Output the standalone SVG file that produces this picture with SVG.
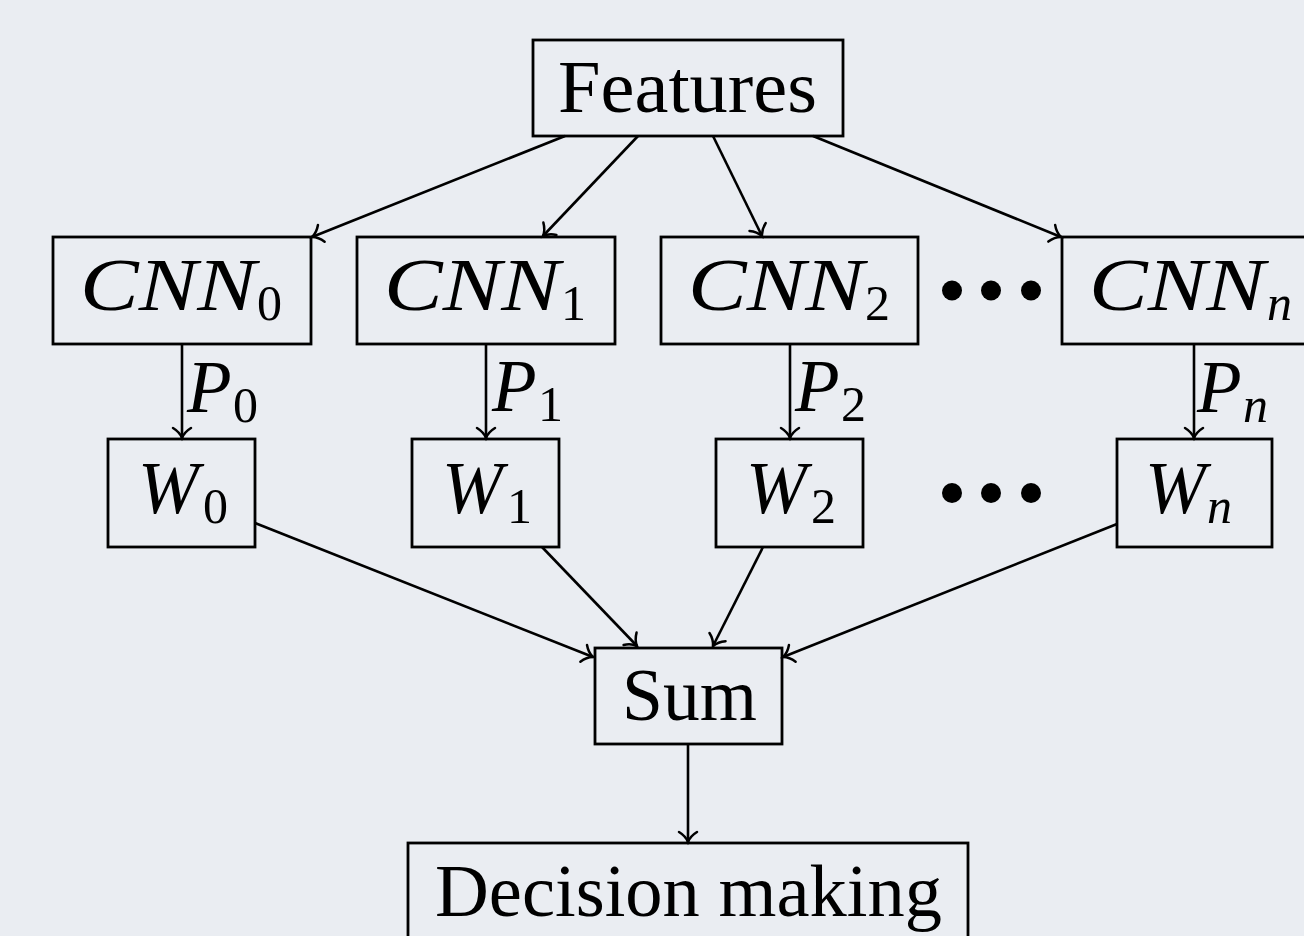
<svg xmlns="http://www.w3.org/2000/svg" width="1304" height="936" viewBox="0 0 1304 936">
  <defs>
    <marker id="to" markerUnits="userSpaceOnUse" markerWidth="26" markerHeight="26" viewBox="-13 -13 26 26" refX="0" refY="0" orient="auto">
      <path d="M -10,-9 C -6.5,-3.2 -2.2,-0.9 0,0 C -2.2,0.9 -6.5,3.2 -10,9" fill="none" stroke="#000" stroke-width="2.5" stroke-linecap="round"/>
    </marker>
  </defs>
  <style>
    .box { fill: none; stroke: #000; stroke-width: 2.8; }
    .edge { fill: none; stroke: #000; stroke-width: 2.6; marker-end: url(#to); }
    .rm { font-family: "Liberation Serif", "DejaVu Serif", serif; font-size: 73px; fill: #000; }
    .it { font-family: "Liberation Serif", "DejaVu Serif", serif; font-size: 73px; font-style: italic; fill: #000; }
    .sub { font-family: "Liberation Serif", "DejaVu Serif", serif; font-size: 50px; fill: #000; }
    .subit { font-family: "Liberation Serif", "DejaVu Serif", serif; font-size: 50px; font-style: italic; fill: #000; }
    .dot { fill: #000; }
  </style>
  <rect x="0" y="0" width="1304" height="936" fill="#eaedf2"/>

  <!-- input node -->
  <g id="features">
    <rect class="box" x="533" y="40" width="310" height="96"/>
    <text class="rm" x="558" y="112" textLength="259" lengthAdjust="spacingAndGlyphs">Features</text>
  </g>

  <!-- CNN row -->
  <g id="cnn0">
    <rect class="box" x="53" y="237" width="258" height="107"/>
    <text class="it" x="80" y="310" textLength="176" lengthAdjust="spacingAndGlyphs">CNN</text>
    <text class="sub" x="257" y="320">0</text>
  </g>
  <g id="cnn1">
    <rect class="box" x="357" y="237" width="258" height="107"/>
    <text class="it" x="384" y="310" textLength="176" lengthAdjust="spacingAndGlyphs">CNN</text>
    <text class="sub" x="561" y="320">1</text>
  </g>
  <g id="cnn2">
    <rect class="box" x="661" y="237" width="257" height="107"/>
    <text class="it" x="688" y="310" textLength="176" lengthAdjust="spacingAndGlyphs">CNN</text>
    <text class="sub" x="865" y="320">2</text>
  </g>
  <g id="dots-cnn">
    <circle class="dot" cx="952" cy="290.5" r="10"/>
    <circle class="dot" cx="991" cy="290.5" r="10"/>
    <circle class="dot" cx="1031" cy="290.5" r="10"/>
  </g>
  <g id="cnnn">
    <rect class="box" x="1062" y="237" width="260" height="107"/>
    <text class="it" x="1089" y="310" textLength="176" lengthAdjust="spacingAndGlyphs">CNN</text>
    <text class="subit" x="1267" y="320">n</text>
  </g>

  <!-- weight row -->
  <g id="w0">
    <rect class="box" x="108" y="439" width="147" height="108"/>
    <text class="it" x="138" y="513">W</text>
    <text class="sub" x="203" y="523">0</text>
  </g>
  <g id="w1">
    <rect class="box" x="412" y="439" width="147" height="108"/>
    <text class="it" x="442" y="513">W</text>
    <text class="sub" x="507" y="523">1</text>
  </g>
  <g id="w2">
    <rect class="box" x="716" y="439" width="147" height="108"/>
    <text class="it" x="746" y="513">W</text>
    <text class="sub" x="811" y="523">2</text>
  </g>
  <g id="dots-w">
    <circle class="dot" cx="952" cy="493" r="10"/>
    <circle class="dot" cx="991" cy="493" r="10"/>
    <circle class="dot" cx="1031" cy="493" r="10"/>
  </g>
  <g id="wn">
    <rect class="box" x="1117" y="439" width="155" height="108"/>
    <text class="it" x="1145" y="513">W</text>
    <text class="subit" x="1207" y="523">n</text>
  </g>

  <!-- aggregation and output -->
  <g id="sum">
    <rect class="box" x="595" y="648" width="187" height="96"/>
    <text class="rm" x="622" y="720" textLength="135" lengthAdjust="spacingAndGlyphs">Sum</text>
  </g>
  <g id="decision">
    <rect class="box" x="408" y="843" width="560" height="110"/>
    <text class="rm" x="435" y="916" textLength="507" lengthAdjust="spacingAndGlyphs">Decision making</text>
  </g>

  <!-- connectors -->
  <g id="edges">
    <line class="edge" x1="565" y1="136" x2="312" y2="237"/>
    <line class="edge" x1="638" y1="136" x2="543" y2="236"/>
    <line class="edge" x1="713" y1="136" x2="762" y2="236"/>
    <line class="edge" x1="813" y1="136" x2="1061" y2="237"/>

    <line class="edge" x1="182" y1="344" x2="182" y2="438"/>
    <line class="edge" x1="486" y1="344" x2="486" y2="438"/>
    <line class="edge" x1="790" y1="344" x2="790" y2="438"/>
    <line class="edge" x1="1194" y1="344" x2="1194" y2="438"/>

    <line class="edge" x1="255" y1="523" x2="593" y2="657"/>
    <line class="edge" x1="542" y1="547" x2="637" y2="646"/>
    <line class="edge" x1="763" y1="547" x2="713" y2="646"/>
    <line class="edge" x1="1117" y1="524" x2="783" y2="657"/>

    <line class="edge" x1="688" y1="744" x2="688" y2="842"/>
  </g>

  <!-- edge labels -->
  <g id="labels">
    <text class="it" x="187" y="412">P</text>
    <text class="sub" x="233" y="422">0</text>
    <text class="it" x="492" y="411">P</text>
    <text class="sub" x="538" y="421">1</text>
    <text class="it" x="795" y="411">P</text>
    <text class="sub" x="841" y="421">2</text>
    <text class="it" x="1197" y="412">P</text>
    <text class="subit" x="1243" y="422">n</text>
  </g>
</svg>
